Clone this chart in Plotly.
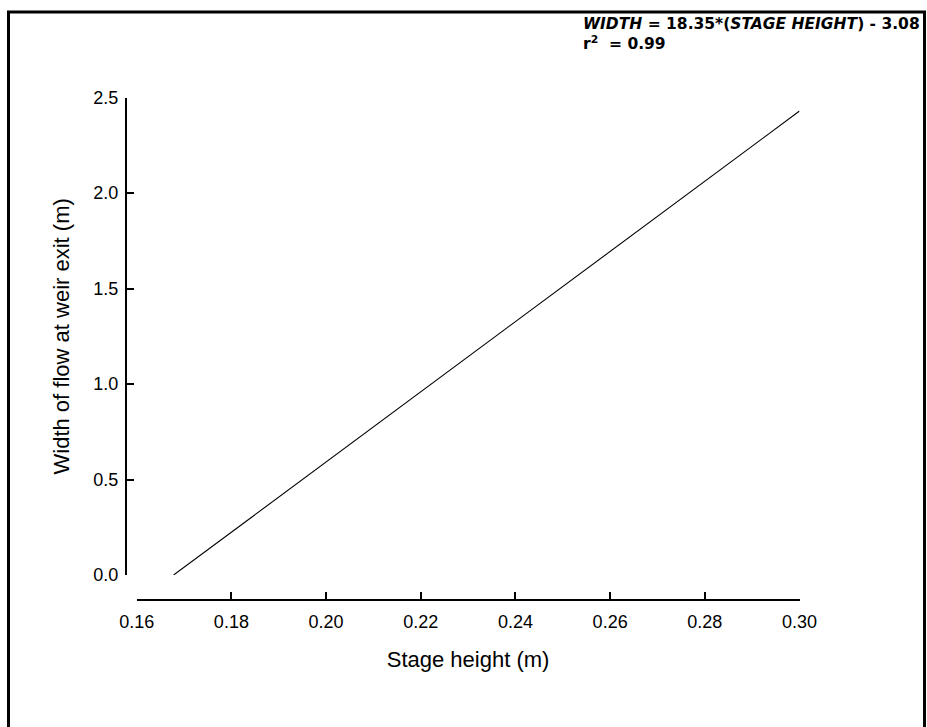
import plotly.graph_objects as go

# Data
stage_height = [0.1678, 0.30]
flow_width = [0.0, 2.43]
x_ticks = [0.16, 0.18, 0.20, 0.22, 0.24, 0.26, 0.28, 0.30]
x_tick_labels = ["0.16", "0.18", "0.20", "0.22", "0.24", "0.26", "0.28", "0.30"]
y_ticks = [0.0, 0.5, 1.0, 1.5, 2.0, 2.5]
y_tick_labels = ["0.0", "0.5", "1.0", "1.5", "2.0", "2.5"]

W, H = 927, 727

def px_x(p):
    return p / W

def px_y(p):
    return (H - p) / H

fig = go.Figure()
fig.add_trace(go.Scatter(
    x=stage_height, y=flow_width, mode="lines",
    line=dict(color="black", width=1.1), showlegend=False, hoverinfo="skip",
))

axis_font = dict(family="Liberation Sans, Arial, sans-serif", size=18, color="black")
title_font = dict(family="Liberation Sans, Arial, sans-serif", size=22, color="black")

fig.update_layout(
    template="none",
    width=W, height=H,
    margin=dict(l=0, r=0, t=0, b=0, pad=0, autoexpand=False),
    paper_bgcolor="white", plot_bgcolor="white",
    xaxis=dict(
        domain=[px_x(136.7), px_x(799.5)],
        range=[0.16, 0.30],
        anchor="free", position=px_y(600),
        automargin=False,
        tickmode="array", tickvals=x_ticks, ticktext=x_tick_labels,
        ticks="inside", ticklen=7, tickwidth=1.5, tickcolor="black",
        ticklabelstandoff=5,
        showline=True, linecolor="black", linewidth=2,
        showgrid=False, zeroline=False,
        tickfont=axis_font,
        title=dict(text="Stage height (m)", font=title_font, standoff=20),
    ),
    yaxis=dict(
        domain=[px_y(575), px_y(97.7)],
        range=[0, 2.5],
        anchor="free", position=px_x(126),
        automargin=False,
        tickmode="array", tickvals=y_ticks, ticktext=y_tick_labels,
        ticks="inside", ticklen=7, tickwidth=1.5, tickcolor="black",
        ticklabelstandoff=3,
        showline=True, linecolor="black", linewidth=2,
        showgrid=False, zeroline=False,
        tickfont=axis_font,
        title=dict(text="Width of flow at weir exit (m)", font=title_font, standoff=17),
    ),
    font=dict(family="Liberation Sans, Arial, sans-serif", color="black"),
)

# Figure border
fig.add_shape(
    type="rect", xref="paper", yref="paper",
    x0=px_x(8.5), x1=px_x(924.5), y0=px_y(740), y1=px_y(12),
    line=dict(color="black", width=3), fillcolor="rgba(0,0,0,0)", layer="above",
)

fig.add_annotation(
    xref="paper", yref="paper", x=px_x(581), y=px_y(13),
    xanchor="left", yanchor="top", align="left", showarrow=False,
    text="<b><i>WIDTH</i> = 18.35*(<i>STAGE HEIGHT</i>) - 3.08<br>r<sup>2</sup>&nbsp; = 0.99</b>",
    font=dict(family="DejaVu Sans, sans-serif", size=15.5, color="black"),
)

fig.write_html("out.html")
